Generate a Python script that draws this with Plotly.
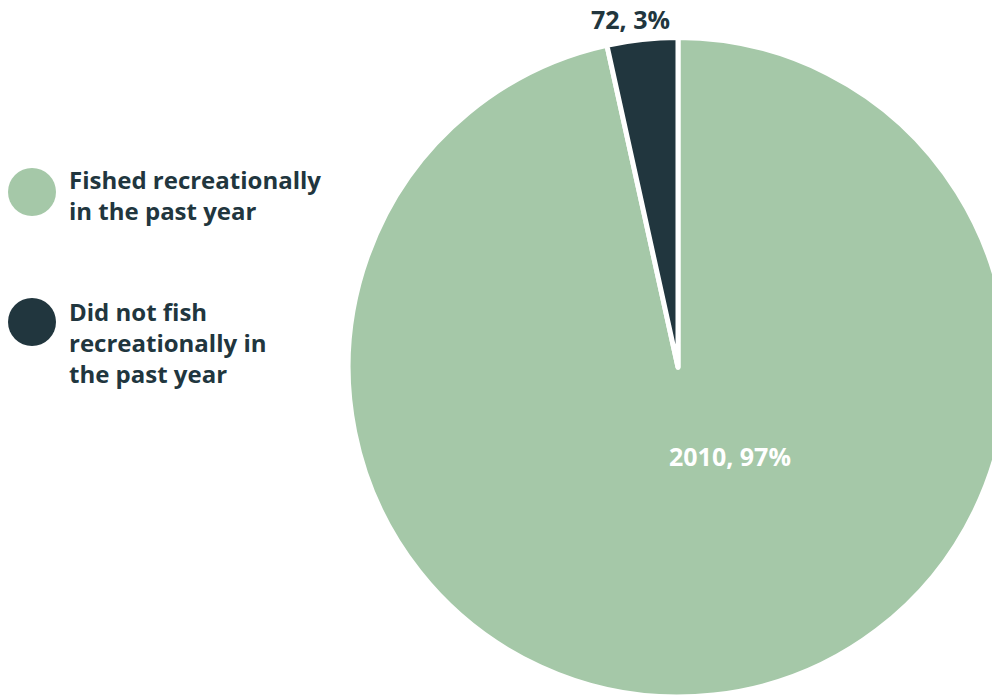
import plotly.graph_objects as go

# Data
categories = ["Fished recreationally in the past year", "Did not fish recreationally in the past year"]
legend_labels = ["Fished recreationally<br>in the past year", "Did not fish<br>recreationally in<br>the past year"]
values = [2010, 72]
percents = [97, 3]
colors = ["#A5C8A8", "#21363E"]

W, H = 1010, 697
FONT = "Open Sans"
DARK = "#21363E"

def px(x):
    return x / W

def py(y):
    return 1 - y / H

fig = go.Figure()
fig.add_trace(go.Pie(
    labels=categories,
    values=values,
    sort=False,
    direction="clockwise",
    rotation=0,
    marker=dict(colors=colors, line=dict(color="white", width=5)),
    textinfo="none",
    hoverinfo="label+value+percent",
    showlegend=False,
    domain=dict(x=[px(347.5), px(1008.5)], y=[0, py(37.5)]),
))

annotations = []
shapes = []
# slice labels
label_pos = [(730, 456, "white"), (630, 19, DARK)]
for v, p, (lx, ly, c) in zip(values, percents, label_pos):
    annotations.append(dict(
        x=px(lx), y=py(ly), xref="paper", yref="paper",
        text=f"{v}, {p}%", showarrow=False,
        xanchor="center", yanchor="middle",
        font=dict(family=FONT, size=25, color=c, weight=700),
    ))

# custom legend
legend_pos = [(192, 195), (322, 342)]
for lab, col, (cy, ty) in zip(legend_labels, colors, legend_pos):
    shapes.append(dict(
        type="circle", xref="paper", yref="paper",
        x0=px(8), x1=px(56), y0=py(cy + 24), y1=py(cy - 24),
        fillcolor=col, line=dict(width=0),
    ))
    annotations.append(dict(
        x=px(67), y=py(ty), xref="paper", yref="paper",
        text=lab, showarrow=False, align="left",
        xanchor="left", yanchor="middle",
        font=dict(family=FONT, size=24, color=DARK, weight=700),
    ))

fig.update_layout(
    width=W, height=H,
    margin=dict(l=0, r=0, t=0, b=0),
    paper_bgcolor="white", plot_bgcolor="white",
    annotations=annotations, shapes=shapes,
)

fig.write_html("out.html")
